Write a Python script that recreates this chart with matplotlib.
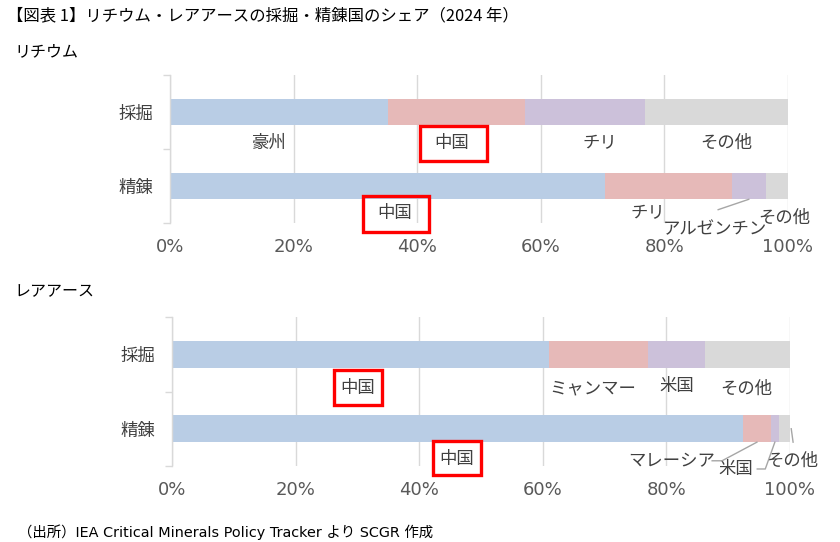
import matplotlib
matplotlib.use("Agg")
import matplotlib.pyplot as plt
from matplotlib.patches import Rectangle

plt.rcParams['font.family'] = ['Noto Sans CJK JP', 'DejaVu Sans']

# ---------------- data ----------------
stages = ["採掘", "精錬"]
tick_values = [0, 20, 40, 60, 80, 100]
tick_labels = ["0%", "20%", "40%", "60%", "80%", "100%"]

li_mining_countries = ["豪州", "中国", "チリ", "その他"]
li_mining_share = [35.3, 22.2, 19.3, 23.2]
li_refining_countries = ["中国", "チリ", "アルゼンチン", "その他"]
li_refining_share = [70.4, 20.5, 5.5, 3.6]

re_mining_countries = ["中国", "ミャンマー", "米国", "その他"]
re_mining_share = [61.0, 16.1, 9.2, 13.7]
re_refining_countries = ["中国", "マレーシア", "米国", "その他"]
re_refining_share = [92.4, 4.5, 1.3, 1.8]

seg_colors = ["#B9CDE5", "#E6B9B8", "#CCC1DA", "#D9D9D9"]

title = "【図表 1】リチウム・レアアースの採掘・精錬国のシェア（2024 年）"
source = "（出所）IEA Critical Minerals Policy Tracker より SCGR 作成"

# ---------------- layout ----------------
W, H = 840, 542
fig = plt.figure(figsize=(W / 100, H / 100), dpi=100)
fig.patch.set_facecolor("white")


def px_axes(left, top, right, bottom):
    return fig.add_axes([left / W, 1 - bottom / H, (right - left) / W, (bottom - top) / H])


BAR_H = 0.36
GRID = "#D9D9D9"
LABEL_C = "#404040"


def setup(ax):
    ax.set_xlim(0, 100)
    ax.set_ylim(1.5, -0.5)
    ax.set_axisbelow(True)
    ax.xaxis.grid(True, color=GRID, lw=1)
    for s in ["top", "right", "bottom"]:
        ax.spines[s].set_visible(False)
    ax.spines["left"].set_color(GRID)
    ax.spines["left"].set_linewidth(1)
    ax.set_xticks(tick_values)
    ax.set_xticklabels(tick_labels, family="DejaVu Sans", fontsize=13, color="#595959")
    ax.tick_params(axis="x", length=0, pad=11)
    ax.set_yticks(range(len(stages)))
    ax.set_yticklabels(stages, fontsize=12.5, color="#404040")
    ax.tick_params(axis="y", which="major", length=0, pad=12)
    ax.set_yticks([-0.5, 0.5, 1.5], minor=True)
    ax.tick_params(axis="y", which="minor", length=5, color=GRID, width=1, direction="out")


def draw_stack(ax, row, shares):
    left = 0
    for v, c in zip(shares, seg_colors):
        ax.barh(row, v, left=left, height=BAR_H, color=c, edgecolor="none")
        left += v


def seg_center(shares, i):
    return sum(shares[:i]) + shares[i] / 2


def label(ax, x, y, text):
    ax.text(x, y, text, ha="center", va="center", fontsize=12.5, color=LABEL_C, clip_on=False)


def red_box(ax, xc, yc, wpx, hpx, ppx=6.18, ppy=74.0):
    w = wpx / ppx
    h = hpx / ppy
    ax.add_patch(Rectangle((xc - w / 2, yc - h / 2), w, h, fill=False, edgecolor="#FF0000",
                           lw=2.4, clip_on=False, zorder=5))


def leader(ax, xs, ys):
    ax.plot(xs, ys, color="#A6A6A6", lw=1, clip_on=False, zorder=4)


# ---------- Lithium ----------
ax1 = px_axes(170, 75, 788, 223)
setup(ax1)
draw_stack(ax1, 0, li_mining_share)
draw_stack(ax1, 1, li_refining_share)

li_mining_pos = [(16.0, 0.42), (45.6, 0.42), (69.6, 0.42), (90.0, 0.42)]
for (x, y), t in zip(li_mining_pos, li_mining_countries):
    label(ax1, x, y, t)
red_box(ax1, 45.8, 0.42, 67, 35)

li_refining_pos = [(36.4, 1.37), (77.3, 1.36), (88.2, 1.58), (99.4, 1.43)]
for (x, y), t in zip(li_refining_pos, li_refining_countries):
    label(ax1, x, y, t)
red_box(ax1, 36.6, 1.38, 66, 36)
leader(ax1, [88.7, seg_center(li_refining_share, 2)], [1.32, 1 + BAR_H / 2])

# ---------- Rare earths ----------
ax2 = px_axes(172, 317, 790, 466)
setup(ax2)
draw_stack(ax2, 0, re_mining_share)
draw_stack(ax2, 1, re_refining_share)

re_mining_pos = [(30.1, 0.45), (68.1, 0.46), (81.6, 0.43), (92.9, 0.46)]
for (x, y), t in zip(re_mining_pos, re_mining_countries):
    label(ax2, x, y, t)
red_box(ax2, 30.1, 0.44, 48, 35, ppy=74.5)

re_refining_pos = [(46.1, 1.40), (80.9, 1.44), (91.3, 1.54), (100.3, 1.43)]
for (x, y), t in zip(re_refining_pos, re_refining_countries):
    label(ax2, x, y, t)
red_box(ax2, 46.1, 1.39, 48, 34, ppy=74.5)
leader(ax2, [87.4, 89.0, seg_center(re_refining_share, 1)], [1.43, 1.43, 1 + BAR_H / 2])
leader(ax2, [94.7, 96.0, seg_center(re_refining_share, 2)], [1.54, 1.54, 1 + BAR_H / 2])
leader(ax2, [100.2, 100.5], [1.0, 1 + BAR_H / 2])

# ---------- texts ----------
fig.text(7 / W, 1 - 16 / H, title, fontsize=11.8, color="black", va="center", ha="left")
fig.text(14 / W, 1 - 52 / H, "リチウム", fontsize=11.5, color="black", va="center", ha="left")
fig.text(14 / W, 1 - 292 / H, "レアアース", fontsize=11.5, color="black", va="center", ha="left")
fig.text(18 / W, 1 - 532 / H, source, fontsize=10.4, color="black", va="center", ha="left",
         family=["DejaVu Sans", "Noto Sans CJK JP"])

fig.savefig("out.png", dpi=100, facecolor="white")
